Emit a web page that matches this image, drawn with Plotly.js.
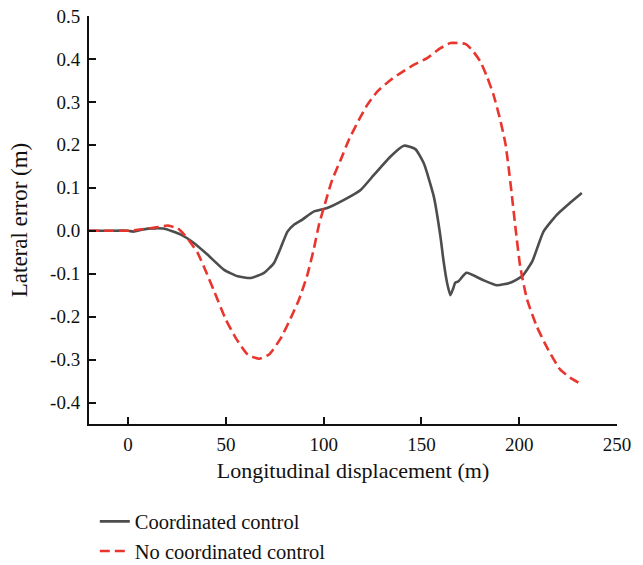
<!DOCTYPE html>
<html>
<head>
<meta charset="utf-8">
<script src="https://cdn.plot.ly/plotly-3.0.1.min.js"></script>
<style>html,body{margin:0;padding:0;background:#fff;}#chart{width:643px;height:565px;}</style>
</head>
<body>
<div id="chart"></div>
<script>
// Coordinated control (grey solid)
const coordX = [-20, -10, 0, 2.6, 10, 18, 27, 33.8, 40.7, 49.1, 56, 62.8, 69.5, 74.6, 78, 81.5, 84.8, 89.1, 95.1, 101.8, 110.4, 118.9, 125.7, 134.2, 141, 146.9, 151.2, 156.3, 159.7, 161.2, 163.1, 164.8, 166.2, 167.3, 168.9, 173, 181.1, 188.6, 195.4, 201.4, 206.6, 212.4, 219.2, 226, 232];
const coordY = [0, 0, 0, -0.002, 0.005, 0.005, -0.009, -0.029, -0.056, -0.091, -0.106, -0.110, -0.098, -0.075, -0.040, -0.002, 0.014, 0.026, 0.045, 0.053, 0.072, 0.095, 0.130, 0.173, 0.198, 0.190, 0.157, 0.080, -0.013, -0.067, -0.121, -0.150, -0.135, -0.121, -0.118, -0.098, -0.114, -0.127, -0.121, -0.106, -0.072, -0.002, 0.037, 0.065, 0.088];

// No coordinated control (red dashed)
const noCoordX = [-20, -10, 0, 10, 14.3, 20.4, 25.5, 28.7, 32, 35.6, 39.8, 44, 50, 55.1, 61.1, 67, 72.1, 78.1, 83.2, 87.4, 91.7, 95.1, 97.6, 101, 104.4, 108.7, 112.9, 118, 122.3, 127.4, 134.2, 139.3, 146, 152.9, 159.7, 164.8, 172.4, 175.9, 180.1, 183.5, 186.9, 190.3, 192.9, 194.5, 196.3, 198, 200.5, 204, 209, 214, 220.9, 226, 232];
const noCoordY = [0, 0, 0, 0.005, 0.008, 0.012, 0.005, -0.009, -0.028, -0.052, -0.095, -0.141, -0.207, -0.250, -0.288, -0.298, -0.288, -0.250, -0.203, -0.160, -0.102, -0.040, 0.014, 0.068, 0.119, 0.165, 0.212, 0.258, 0.293, 0.324, 0.351, 0.367, 0.386, 0.402, 0.425, 0.437, 0.435, 0.421, 0.394, 0.359, 0.316, 0.258, 0.204, 0.150, 0.080, 0.010, -0.083, -0.160, -0.223, -0.270, -0.323, -0.342, -0.358];

const seriesNames = ["Coordinated control", "No coordinated control"];
const xTicks = [0, 50, 100, 150, 200, 250];
const yTicks = [-0.4, -0.3, -0.2, -0.1, 0.0, 0.1, 0.2, 0.3, 0.4, 0.5];
const yTickText = ["-0.4", "-0.3", "-0.2", "-0.1", "0.0", "0.1", "0.2", "0.3", "0.4", "0.5"];

const FONT = "Liberation Serif, Times New Roman, serif";

const traces = [
  {x: coordX, y: coordY, name: seriesNames[0], mode: "lines", type: "scatter",
   line: {color: "#4d4d4d", width: 2.6, shape: "spline", smoothing: 0.5}},
  {x: noCoordX, y: noCoordY, name: seriesNames[1], mode: "lines", type: "scatter",
   line: {color: "#e8352d", width: 2.6, dash: "10px,5px", shape: "spline", smoothing: 0.5}}
];

const layout = {
  width: 643, height: 565, autosize: false,
  margin: {l: 89, r: 26, t: 16, b: 141, autoexpand: false},
  paper_bgcolor: "#fff", plot_bgcolor: "#fff",
  font: {family: FONT, size: 19, color: "#111"},
  showlegend: true,
  legend: {x: 0.011, xanchor: "left", y: -0.19, yanchor: "top", orientation: "v",
           font: {family: FONT, size: 20.5, color: "#111"}, bgcolor: "rgba(0,0,0,0)", tracegroupgap: 0},
  xaxis: {range: [-20, 250], tickvals: xTicks, ticks: "inside", ticklen: 7, tickwidth: 2, tickcolor: "#111",
          showline: true, linecolor: "#111", linewidth: 2, showgrid: false, zeroline: false,
          ticklabelstandoff: 2,
          tickfont: {family: FONT, size: 19, color: "#111"},
          title: {text: "Longitudinal displacement (m)", font: {family: FONT, size: 22, color: "#111"}, standoff: 9}},
  yaxis: {range: [-0.45, 0.5], tickvals: yTicks, ticktext: yTickText, ticks: "inside", ticklen: 7, tickwidth: 2, tickcolor: "#111",
          showline: true, linecolor: "#111", linewidth: 2, showgrid: false, zeroline: false,
          ticklabelstandoff: 3,
          tickfont: {family: FONT, size: 19, color: "#111"},
          title: {text: "Lateral error (m)", font: {family: FONT, size: 23, color: "#111"}, standoff: 16}}
};

Plotly.newPlot("chart", traces, layout, {displayModeBar: false, staticPlot: true});
</script>
</body>
</html>
